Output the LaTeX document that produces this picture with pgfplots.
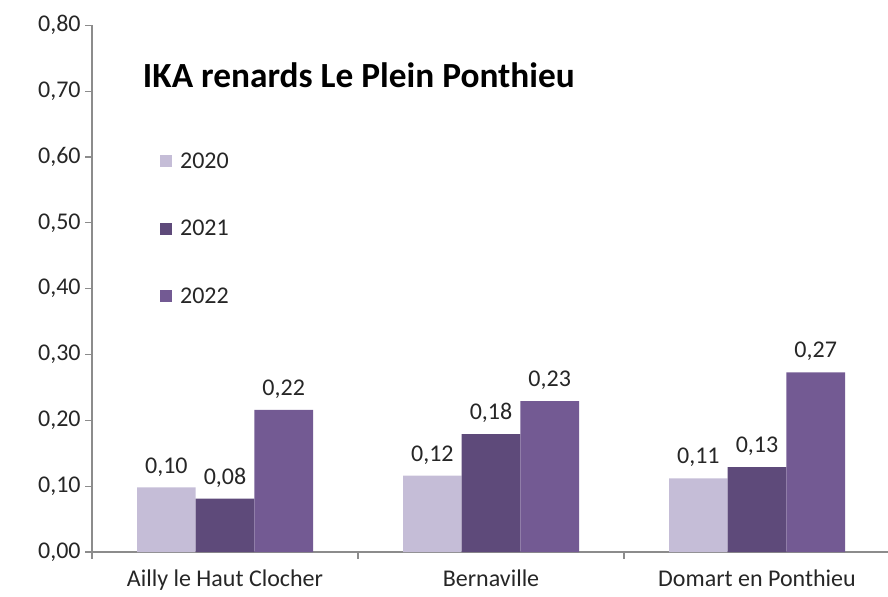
\documentclass[border=0pt]{standalone}
\usepackage{pgfplots}
\pgfplotsset{compat=1.18}
\usepackage{fontspec}
\setmainfont{Carlito}

\definecolor{c2020}{HTML}{C5BDD7}
\definecolor{c2021}{HTML}{5E4A7A}
\definecolor{c2022}{HTML}{735A93}
\definecolor{axisgray}{HTML}{8C8C8C}
\definecolor{txt}{HTML}{262626}

\begin{document}
\begin{tikzpicture}
    % frame of the picture, 1px = 0.75pt, axis box origin at (0,0)
    \useasboundingbox (-69pt,-33pt) rectangle (597pt,414pt);
    \begin{axis}[
        scale only axis,
        width=598.5pt, height=395pt,
        ybar=0pt, bar width=44pt,
        xmin=0.5, xmax=3.5,
        ymin=0, ymax=0.8,
        ytick={0,0.1,0.2,0.3,0.4,0.5,0.6,0.7,0.8},
        axis x line=bottom, axis y line=left,
        axis line style={-, draw=axisgray, line width=0.8pt},
        tick style={draw=axisgray, line width=0.8pt},
        tick align=outside,
        major tick length=5pt,
        xtick={0.5,1.5,2.5,3.5},
        xticklabels={},
        extra x ticks={1,2,3},
        extra x tick labels={Ailly le Haut Clocher, Bernaville, Domart en Ponthieu},
        extra x tick style={major tick length=0pt,
            tick label style={yshift=-10pt}},
        /pgf/number format/assume math mode=true,
        tick label style={font=\fontsize{18}{21}\selectfont, text=txt},
        y tick label style={/pgf/number format/.cd, fixed, fixed zerofill, precision=2, use comma},
        nodes near coords={\pgfmathprintnumber[fixed, fixed zerofill, precision=2, use comma]{\pgfplotspointmeta}},
        nodes near coords style={font=\fontsize{18}{21}\selectfont, text=txt, yshift=5pt},
        legend style={at={(rel axis cs:0.085,0.764)}, anchor=north west, draw=none,
            fill=none, font=\fontsize{18}{21}\selectfont, text=txt,
            row sep=33.5pt, inner sep=0pt,
            /tikz/every odd column/.append style={column sep=4pt}},
        legend cell align=left,
        legend image code/.code={\fill[#1, draw=none] (0pt,-4.5pt) rectangle (9pt,4.5pt);},
        clip=false,
    ]
    \addplot[fill=c2020, draw=none] coordinates {(1,0.098) (2,0.116) (3,0.112)};
    \addplot[fill=c2021, draw=none] coordinates {(1,0.081) (2,0.179) (3,0.129)};
    \addplot[fill=c2022, draw=none] coordinates {(1,0.216) (2,0.229) (3,0.273)};
    \legend{2020, 2021, 2022}

    \node[anchor=west, font=\fontsize{26.5}{30}\selectfont\bfseries, text=black]
        at (rel axis cs:0.058,0.905) {IKA renards Le Plein Ponthieu};
    \end{axis}
\end{tikzpicture}
\end{document}
